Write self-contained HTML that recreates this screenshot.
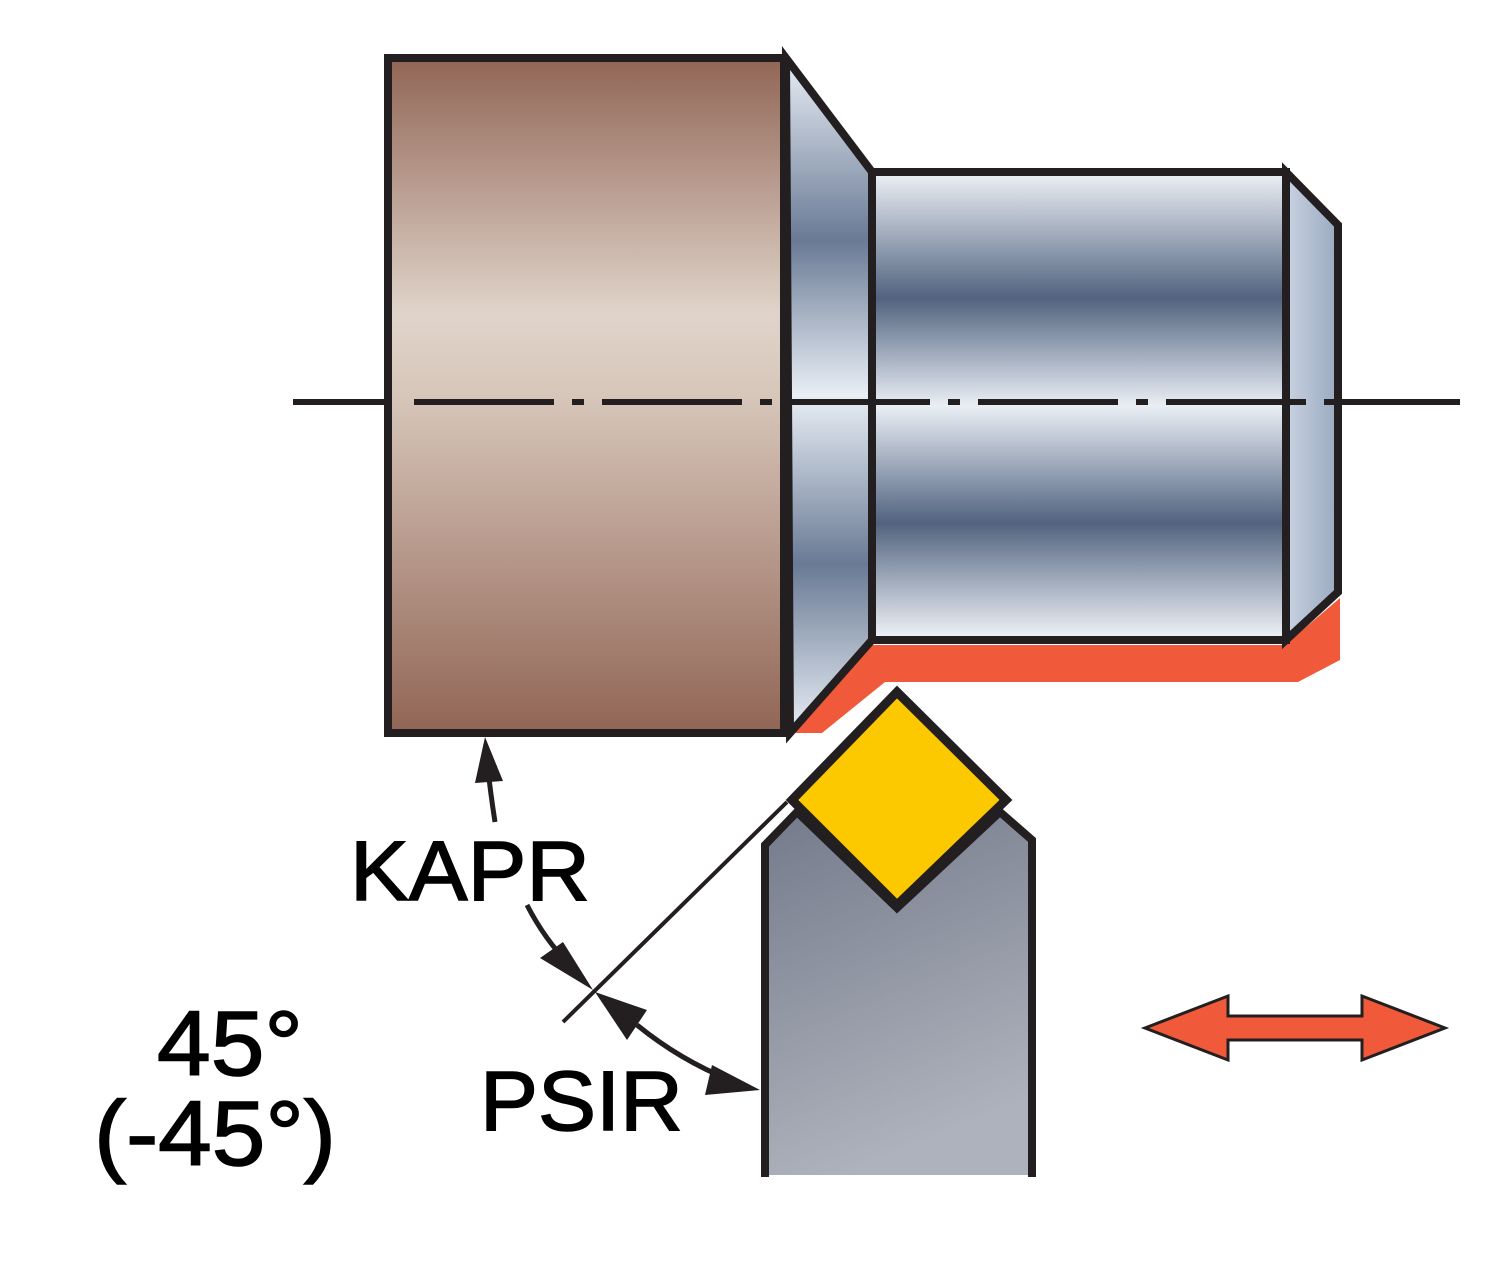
<!DOCTYPE html>
<html><head><meta charset="utf-8"><style>
html,body{margin:0;padding:0;background:#fff;width:1500px;height:1273px;overflow:hidden}
</style></head><body>
<svg width="1500" height="1273" viewBox="0 0 1500 1273" xmlns="http://www.w3.org/2000/svg">
<defs>
<linearGradient id="br" x1="0" y1="0" x2="0" y2="1">
<stop offset="0" stop-color="#916555"/><stop offset="0.38" stop-color="#e0d4ca"/><stop offset="0.5" stop-color="#d7c6ba"/><stop offset="1" stop-color="#916555"/>
</linearGradient>
<linearGradient id="cy" x1="0" y1="0" x2="0" y2="1">
<stop offset="0" stop-color="#eef2f7"/><stop offset="0.27" stop-color="#52637f"/><stop offset="0.5" stop-color="#eaeff5"/><stop offset="0.75" stop-color="#52637f"/><stop offset="1" stop-color="#f2f5f9"/>
</linearGradient>
<linearGradient id="chv" x1="0" y1="0" x2="0" y2="1">
<stop offset="0" stop-color="#e8eef5"/><stop offset="0.27" stop-color="#6a7a95"/><stop offset="0.5" stop-color="#e8eef5"/><stop offset="0.75" stop-color="#6a7a95"/><stop offset="1" stop-color="#e8eef5"/>
</linearGradient>
<linearGradient id="ec" x1="0" y1="0" x2="1" y2="0">
<stop offset="0" stop-color="#c8d3e2"/><stop offset="1" stop-color="#9aa9bf"/>
</linearGradient>
<linearGradient id="gr" x1="0" y1="0" x2="0.3" y2="1">
<stop offset="0" stop-color="#737a8a"/><stop offset="1" stop-color="#aeb2bc"/>
</linearGradient>
</defs>
<polygon points="793,733 870,645 1285,645 1340,598 1340,660 1298,682 885,682 822,733" fill="#f05a3a"/>
<rect x="388" y="58" width="396" height="675" fill="url(#br)" stroke="#231f20" stroke-width="8"/>
<polygon points="786,58 872,172 872,640 790,733" fill="url(#chv)" stroke="#231f20" stroke-width="8"/>
<rect x="872" y="172" width="414" height="468" fill="url(#cy)" stroke="#231f20" stroke-width="8"/>
<polygon points="1286,172 1338,225 1338,592 1286,640" fill="url(#ec)" stroke="#231f20" stroke-width="8"/>
<line x1="293" y1="402" x2="390" y2="402" stroke="#231f20" stroke-width="6"/>
<line x1="1338" y1="402" x2="1460" y2="402" stroke="#231f20" stroke-width="6"/>
<line x1="414" y1="402" x2="1338" y2="402" stroke="#231f20" stroke-width="6" stroke-dasharray="140,18,12,18"/>
<polygon points="765,1175 765,845 797,812 897,908 1000,812 1032,840 1032,1175" fill="url(#gr)"/>
<polyline points="765,1177 765,845 797,812 897,908 1000,812 1032,840 1032,1177" fill="none" stroke="#231f20" stroke-width="8"/>
<polygon points="897,692 1006,800 897,905 792,800" fill="#fcc800" stroke="#231f20" stroke-width="9"/>
<line x1="563" y1="1022" x2="787" y2="802" stroke="#231f20" stroke-width="4"/>
<path d="M495,822 Q490,790 487,760" fill="none" stroke="#231f20" stroke-width="5"/>
<polygon points="485,737 475,783 503,781" fill="#231f20"/>
<path d="M527,905 Q545,940 570,965" fill="none" stroke="#231f20" stroke-width="5"/>
<polygon points="593,990 540,958 563,942" fill="#231f20"/>
<polygon points="595,992 647,1010 627,1040" fill="#231f20"/>
<path d="M637,1025 Q680,1060 730,1080" fill="none" stroke="#231f20" stroke-width="5"/>
<polygon points="760,1090 705,1095 712,1065" fill="#231f20"/>
<g font-family="'Liberation Sans',Arial,sans-serif" fill="#000" stroke="#000" stroke-width="1.5">
<text x="350" y="900" font-size="84" textLength="240" lengthAdjust="spacingAndGlyphs">KAPR</text>
<text x="480" y="1130" font-size="84" textLength="203" lengthAdjust="spacingAndGlyphs">PSIR</text>
<text x="157" y="1075" font-size="92" textLength="146" lengthAdjust="spacingAndGlyphs">45°</text>
<text x="94" y="1165" font-size="92" textLength="242" lengthAdjust="spacingAndGlyphs">(-45°)</text>
</g>
<polygon points="1145,1028 1228,996 1228,1016 1362,1016 1362,996 1445,1028 1362,1060 1362,1040 1228,1040 1228,1060" fill="#f05a3a" stroke="#231f20" stroke-width="3"/>
</svg>
</body></html>
